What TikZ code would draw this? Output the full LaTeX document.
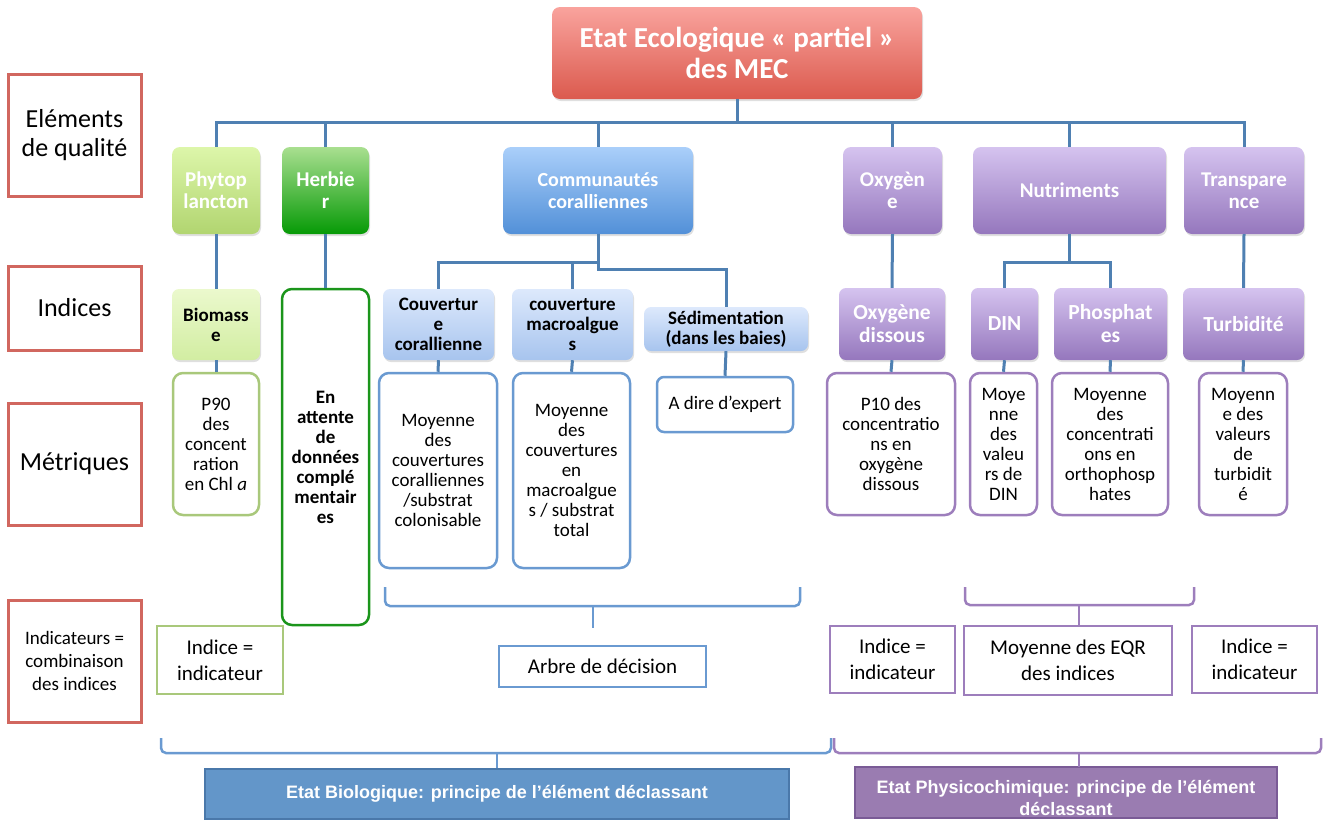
\documentclass[tikz,border=0pt]{standalone}
\usepackage{fontspec}
\setmainfont{Carlito}
\newfontfamily\arialfont{Liberation Sans}
\usetikzlibrary{calc, positioning, shadows}

\newcommand\fsz[2]{\fontsize{#1pt}{#2pt}\selectfont}

\definecolor{linkblue}{HTML}{4F80B2}
\definecolor{labelred}{HTML}{D1675F}
\definecolor{ecoltop}{HTML}{F9A39D}
\definecolor{ecolbot}{HTML}{DB5A4E}
\definecolor{phytotop}{HTML}{DDF6AA}
\definecolor{phytobot}{HTML}{B1D570}
\definecolor{herbtop}{HTML}{A9DF90}
\definecolor{herbbot}{HTML}{069A06}
\definecolor{commtop}{HTML}{AACFFA}
\definecolor{commbot}{HTML}{5290D8}
\definecolor{purptop}{HTML}{D5C3EF}
\definecolor{purpbot}{HTML}{9577BD}
\definecolor{biomtop}{HTML}{EBF9CD}
\definecolor{biombot}{HTML}{D2EDA2}
\definecolor{covtop}{HTML}{DDE9FC}
\definecolor{covbot}{HTML}{A7C4EE}
\definecolor{greenline}{HTML}{A9C87B}
\definecolor{herbline}{HTML}{1B951B}
\definecolor{blueline}{HTML}{6A9AD1}
\definecolor{purpline}{HTML}{9D7EBC}
\definecolor{biofill}{HTML}{6396C9}
\definecolor{bioline}{HTML}{4A78AA}
\definecolor{physfill}{HTML}{9A7CB1}
\definecolor{physline}{HTML}{7A5B96}

\begin{document}
\begin{tikzpicture}[x=1pt, y=-1pt,
    wh/.style 2 args={minimum width=#1pt, minimum height=#2pt},
    connector/.style={draw=linkblue, line width=3pt},
    rowlabel/.style={draw=labelred, line width=3pt, inner sep=0pt, align=center, font=\fsz{26}{29}},
    elem/.style={rounded corners=8pt, inner sep=0pt, align=center, text=white,
        font=\bfseries\fsz{21}{22}, drop shadow={shadow xshift=1pt, shadow yshift=-2pt, opacity=0.25}},
    idx/.style={rounded corners=7pt, inner sep=0pt, align=center,
        font=\bfseries\fsz{19}{20}, drop shadow={shadow xshift=1pt, shadow yshift=-2pt, opacity=0.25}},
    pidx/.style={idx, top color=purptop, bottom color=purpbot, text=white, font=\bfseries\fsz{21.5}{23}},
    metric/.style={rounded corners=10pt, line width=2.5pt, fill=white, inner sep=0pt, align=center,
        font=\fsz{19}{20}},
    indic/.style={line width=2.5pt, inner sep=0pt, align=center, font=\fsz{21}{26}},
    bracepath/.style={line width=2.5pt, rounded corners=5pt},
    bottombar/.style={line width=2pt, inner sep=0pt, align=center, text=white, font=\arialfont\bfseries\fsz{18}{22}}
]

        % ==========================================
        % CORNICE
        % ==========================================
        \useasboundingbox (0,0) rectangle (1323,820);

        % ==========================================
        % ETICHETTE A SINISTRA
        % ==========================================
        \node[rowlabel, wh={133}{122}] (labelem) at (74.5,135) {Eléments\\de qualité};
        \node[rowlabel, wh={133}{84}]  (labidx)  at (74.5,308) {Indices};
        \node[rowlabel, wh={133}{122}] (labmet)  at (74.5,464) {Métriques};
        \node[rowlabel, wh={133}{122}, font=\fsz{19}{23}] (labind) at (74.5,661)
            {Indicateurs =\\combinaison\\des indices};

        % ==========================================
        % RADICE
        % ==========================================
        \node[elem, wh={370}{92}, top color=ecoltop, bottom color=ecolbot, font=\bfseries\fsz{29}{31}]
            (ecol) at (737,53) {Etat Ecologique « partiel »\\des MEC};

        % ==========================================
        % ELEMENTI DI QUALITA
        % ==========================================
        \node[elem, wh={88}{87},  top color=phytotop, bottom color=phytobot] (phyto)  at (216,190.5) {Phytop\\lancton};
        \node[elem, wh={87}{87},  top color=herbtop,  bottom color=herbbot]  (herb)   at (325.5,190.5) {Herbie\\r};
        \node[elem, wh={190}{87}, top color=commtop,  bottom color=commbot, font=\bfseries\fsz{20}{22}] (comm) at (598,190.5) {Communautés\\coralliennes};
        \node[elem, wh={99}{87},  top color=purptop,  bottom color=purpbot] (oxy)    at (892.5,190.5) {Oxygèn\\e};
        \node[elem, wh={193}{87}, top color=purptop,  bottom color=purpbot] (nutr)   at (1069.5,190.5) {Nutriments};
        \node[elem, wh={120}{87}, top color=purptop,  bottom color=purpbot] (transp) at (1244,190.5) {Transpare\\nce};

        % ==========================================
        % INDICI
        % ==========================================
        \node[idx, wh={88}{71},  top color=biomtop, bottom color=biombot] (biom)  at (216,324.5) {Biomass\\e};
        \node[idx, wh={111}{71}, top color=covtop,  bottom color=covbot]  (coral) at (438.5,324.5) {Couvertur\\e\\corallienne};
        \node[idx, wh={121}{71}, top color=covtop,  bottom color=covbot]  (macro) at (572.5,324.5) {couverture\\macroalgue\\s};
        \node[idx, wh={164}{44}, top color=covtop,  bottom color=covbot]  (sedim) at (726,329) {Sédimentation\\(dans les baies)};
        \node[pidx, wh={106}{72}] (oxyd) at (892,324) {Oxygène\\dissous};
        \node[pidx, wh={67}{72}]  (din)  at (1004.5,324) {DIN};
        \node[pidx, wh={113}{72}] (phos) at (1110.5,324) {Phosphat\\es};
        \node[pidx, wh={121}{72}] (turb) at (1243.5,324) {Turbidité};

        % ==========================================
        % METRICHE
        % ==========================================
        \node[metric, draw=greenline, wh={86}{142}]  (mp90)    at (216,444) {P90\\des\\concent\\ration\\en Chl \textit{a}};
        \node[metric, draw=herbline, wh={87}{336}, font=\bfseries\fsz{19}{20}] (mherb) at (325.5,457)
            {En\\attente\\de\\données\\complé\\mentair\\es};
        \node[metric, draw=blueline, wh={118}{195}] (mcoral)  at (438,470.5) {Moyenne\\des\\couvertures\\coralliennes\\/substrat\\colonisable};
        \node[metric, draw=blueline, wh={117}{195}] (mmacro)  at (571.5,470.5) {Moyenne\\des\\couvertures\\en\\macroalgue\\s / substrat\\total};
        \node[metric, draw=blueline, wh={136}{55}, rounded corners=7pt] (mexpert) at (725,404.5) {A dire d’expert};
        \node[metric, draw=purpline, wh={128}{142}] (mp10)    at (891,444) {P10 des\\concentratio\\ns en\\oxygène\\dissous};
        \node[metric, draw=purpline, wh={67}{142}]  (mdin)    at (1003.5,444) {Moye\\nne\\des\\valeu\\rs de\\DIN};
        \node[metric, draw=purpline, wh={116}{142}] (mphos)   at (1110,444) {Moyenne\\des\\concentrati\\ons en\\orthophosp\\hates};
        \node[metric, draw=purpline, wh={88}{142}]  (mturb)   at (1243,444) {Moyenn\\e des\\valeurs\\de\\turbidit\\é};

        % ==========================================
        % INDICATORI
        % ==========================================
        \node[indic, draw=greenline, wh={126}{68}]  (ind1)  at (220,660) {Indice =\\indicateur};
        \node[indic, draw=blueline,  wh={207}{41}]  (arbre) at (602.5,666.5) {Arbre de décision};
        \node[indic, draw=purpline,  wh={125}{67}]  (ind2)  at (892.5,659.5) {Indice =\\indicateur};
        \node[indic, draw=purpline,  wh={208}{69}]  (eqr)   at (1068,660.5) {Moyenne des EQR\\des indices};
        \node[indic, draw=purpline,  wh={125}{67}]  (ind3)  at (1254.5,659.5) {Indice =\\indicateur};

        % ==========================================
        % ETATS FINALI
        % ==========================================
        \node[bottombar, draw=bioline, fill=biofill, wh={584}{50}]  (bio)  at (497,794) {Etat Biologique: principe de l’élément déclassant};
        \node[bottombar, draw=physline, fill=physfill, wh={422}{51}] (phys) at (1066,792.5)
            {\rule{0pt}{25pt}Etat Physicochimique: principe de l’élément\\déclassant};

        % ==========================================
        % COLLEGAMENTI
        % ==========================================
        \coordinate (hub) at (737,122);
        \draw[connector] (ecol.south) -- (hub);
        \foreach \n in {phyto, herb, comm, oxy, nutr, transp}
            \draw[connector] (hub) -| (\n.north);

        \draw[connector] (phyto.south) -- (biom.north);
        \draw[connector] (biom.south) -- (mp90.north);
        \draw[connector] (herb.south) -- (mherb.north);

        \coordinate (commhub) at (598,262);
        \draw[connector] (comm.south) -- (commhub) -| (coral.north);
        \draw[connector] (commhub) -| (macro.north);
        \draw[connector] (commhub) -- ++(0,7) -| (sedim.north);
        \draw[connector] (coral.south) -- (mcoral.north);
        \draw[connector] (macro.south) -- (mmacro.north);
        \draw[connector] (sedim.south) -- (mexpert.north);

        \draw[connector] (oxy.south) -- (oxyd.north);
        \coordinate (nutrhub) at (1069.5,262);
        \draw[connector] (nutr.south) -- (nutrhub) -| (din.north);
        \draw[connector] (nutrhub) -| (phos.north);
        \draw[connector] (transp.south) -- (turb.north);
        \foreach \a/\b in {oxyd/mp10, din/mdin, phos/mphos, turb/mturb}
            \draw[connector] (\a.south) -- (\b.north);

        % ==========================================
        % PARENTESI
        % ==========================================
        % biologico, indicatori
        \draw[bracepath, draw=blueline] (385,587) -- (385,606) -- (800,606) -- (800,587);
        \draw[bracepath, draw=blueline] (593,606) -- (593,628);
        % fisico-chimico, nutrimenti
        \draw[bracepath, draw=purpline] (965,587) -- (965,605) -- (1194,605) -- (1194,587);
        \draw[bracepath, draw=purpline] (1079,605) -- (1079,625);
        % stato biologico
        \draw[bracepath, draw=blueline] (161,738) -- (161,753) -- (831,753) -- (831,738);
        \draw[bracepath, draw=blueline] (497,753) -- (bio.north);
        % stato fisico-chimico
        \draw[bracepath, draw=purpline] (834,738) -- (834,753) -- (1321,753) -- (1321,738);
        \draw[bracepath, draw=purpline] (1079,753) -- (1079,767);

    \end{tikzpicture}
\end{document}
